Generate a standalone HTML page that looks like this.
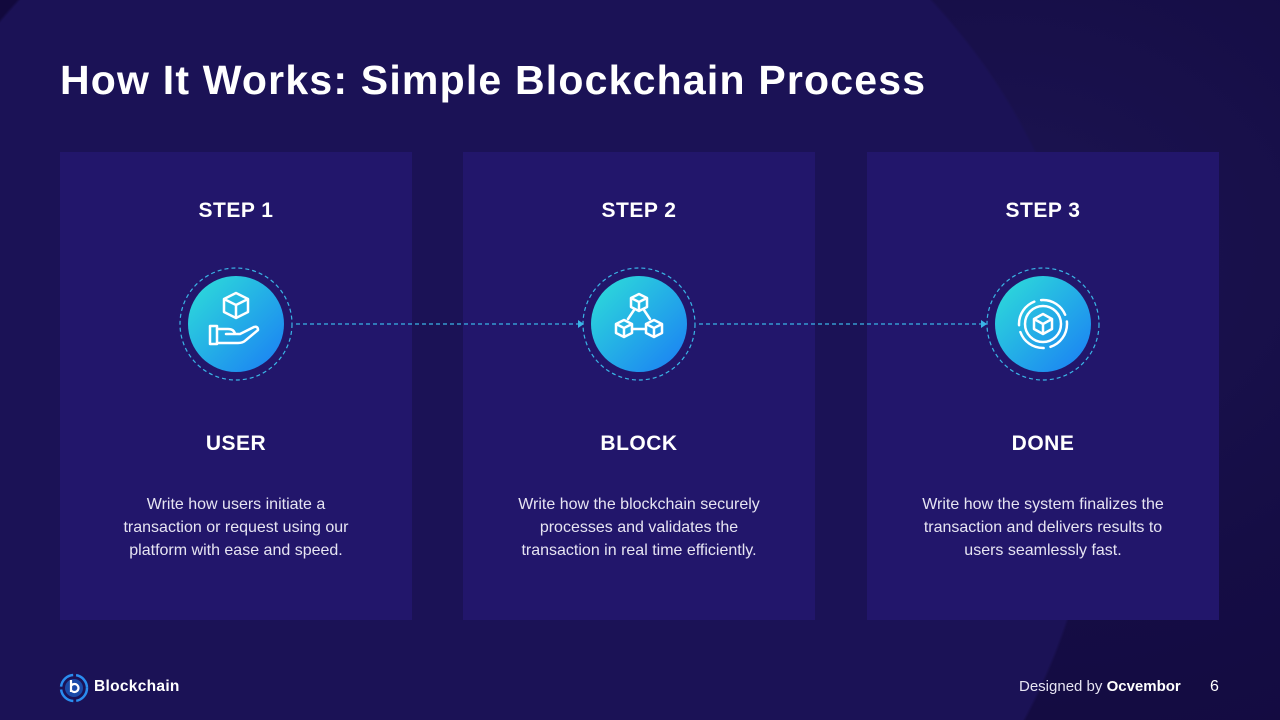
<!DOCTYPE html>
<html><head><meta charset="utf-8"><style>
html,body{margin:0;padding:0;width:1280px;height:720px;overflow:hidden}
body{position:relative;font-family:"Liberation Sans",sans-serif;color:#fff;background:#140c45}
.wrap{position:absolute;left:0;top:0;width:1280px;height:720px;overflow:hidden;
background:radial-gradient(circle 625px at 475px 425px,#1b1256 0%,#1b1256 99.5%,rgba(0,0,0,0) 100%),radial-gradient(ellipse 900px 700px at 1000px 250px,#1c1452 0%,#150d45 50%,#12093d 100%);}
h1{position:absolute;left:60px;top:57px;margin:0;font-size:41px;font-weight:700;letter-spacing:1.2px;white-space:nowrap}
.card{position:absolute;top:152px;width:352px;height:468px;background:#22166b}
.step,.name{position:absolute;width:100%;text-align:center;font-size:21px;font-weight:700;letter-spacing:0.5px}
.desc{position:absolute;left:50%;width:270px;margin-left:-135px;text-align:center;font-size:16px;line-height:23px;color:#e6e4f2}
.card .step{top:47px}.card .name{top:280px}.card .desc{top:341px}
.ic{position:absolute;top:114px;left:118px}
.foot{position:absolute;top:678px;font-size:15px;line-height:18px}
.conn{position:absolute;left:0;top:0;z-index:5}
</style></head><body><div class="wrap">
<h1>How It Works: Simple Blockchain Process</h1>
<div class="card" style="left:60px">
<div class="step">STEP 1</div>
<svg class="ic" width="116" height="116" viewBox="0 0 116 116"><defs><linearGradient id="g" x1="0" y1="0" x2="1" y2="1"><stop offset="0" stop-color="#2ee0d8"/><stop offset="1" stop-color="#1a7cf5"/></linearGradient></defs>
<circle cx="58" cy="58" r="56" fill="none" stroke="#3ab5e6" stroke-width="1.2" stroke-dasharray="4 3"/>
<circle cx="58" cy="58" r="48" fill="url(#g)"/>
<g fill="none" stroke="#fff" stroke-width="2.5" stroke-linejoin="round" stroke-linecap="round">
<path d="M58 27 L70 33 L70 46 L58 52 L46 46 L46 33 Z M46 33 L58 39 L70 33 M58 39 L58 52"/>
<rect x="32" y="60" width="7" height="18"/>
<path d="M39 63 L50 63 Q56 63 57 68 L48 68 M52 68 L62 68 L76 61 Q80 60 80 64 L68 74 Q65 77 60 77 L39 77"/>
</g></svg>
<div class="name">USER</div>
<div class="desc" style="width:250px;margin-left:-125px">Write how users initiate a transaction or request using our platform with ease and speed.</div>
</div>
<div class="card" style="left:463px">
<div class="step">STEP 2</div>
<svg class="ic" width="116" height="116" viewBox="0 0 116 116">
<circle cx="58" cy="58" r="56" fill="none" stroke="#3ab5e6" stroke-width="1.2" stroke-dasharray="4 3"/>
<circle cx="58" cy="58" r="48" fill="url(#g)"/>
<g fill="none" stroke="#fff" stroke-width="2.5" stroke-linejoin="round" stroke-linecap="round">
<path d="M58 28 L66 32 L66 41 L58 45 L50 41 L50 32 Z M50 32 L58 36 L66 32 M58 36 L58 45"/>
<path d="M43 54 L51 58 L51 67 L43 71 L35 67 L35 58 Z M35 58 L43 62 L51 58 M43 62 L43 71"/>
<path d="M73 54 L81 58 L81 67 L73 71 L65 67 L65 58 Z M65 58 L73 62 L81 58 M73 62 L73 71"/>
<path d="M53 44 L47 53 M63 44 L69 53 M51 63 L65 63"/>
</g></svg>
<div class="name">BLOCK</div>
<div class="desc">Write how the blockchain securely processes and validates the transaction in real time efficiently.</div>
</div>
<div class="card" style="left:867px">
<div class="step">STEP 3</div>
<svg class="ic" width="116" height="116" viewBox="0 0 116 116">
<circle cx="58" cy="58" r="56" fill="none" stroke="#3ab5e6" stroke-width="1.2" stroke-dasharray="4 3"/>
<circle cx="58" cy="58" r="48" fill="url(#g)"/>
<g fill="none" stroke="#fff" stroke-width="2.5" stroke-linejoin="round" stroke-linecap="round">
<circle cx="58" cy="58" r="24" stroke-dasharray="30 7"/>
<circle cx="58" cy="58" r="18"/>
<path d="M58 48 L67 53 L67 63 L58 68 L49 63 L49 53 Z M49 53 L58 58 L67 53 M58 58 L58 68"/>
</g></svg>
<div class="name">DONE</div>
<div class="desc">Write how the system finalizes the transaction and delivers results to users seamlessly fast.</div>
</div>
<svg class="conn" width="1280" height="720">
<line x1="296" y1="324" x2="578" y2="324" stroke="#3ab5e6" stroke-width="1.2" stroke-dasharray="4 3"/>
<polygon points="578,320 584,324 578,328" fill="#3ab5e6"/>
<line x1="699" y1="324" x2="981" y2="324" stroke="#3ab5e6" stroke-width="1.2" stroke-dasharray="4 3"/>
<polygon points="981,320 987,324 981,328" fill="#3ab5e6"/>
</svg>
<svg style="position:absolute;left:59px;top:673px" width="30" height="30" viewBox="0 0 30 30">
<circle cx="15" cy="15" r="13" fill="none" stroke="#2a8df0" stroke-width="2.5" stroke-dasharray="18 3"/>
<circle cx="15" cy="15" r="9" fill="#1a4aa8"/>
<path d="M12 7 L12 19 M12 17 A4 4 0 1 0 12 13" fill="none" stroke="#fff" stroke-width="2.2"/>
</svg>
<div class="foot" style="left:94px;font-weight:700;font-size:15.5px;letter-spacing:0.3px">Blockchain</div>
<div class="foot" style="left:1019px;color:#e6e4f2">Designed by <b style="color:#fff">Ocvembor</b></div>
<div class="foot" style="left:1210px;font-size:16px">6</div>
</div></body></html>
